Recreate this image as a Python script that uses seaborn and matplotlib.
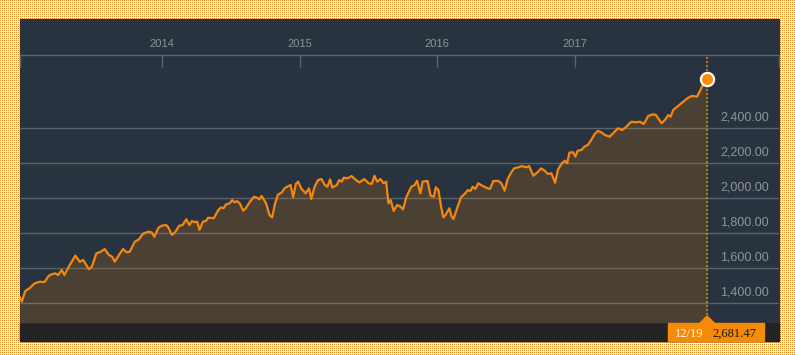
import matplotlib
matplotlib.use("Agg")
import matplotlib.pyplot as plt
import matplotlib.dates as mdates
import matplotlib.patches as mpatches
import matplotlib.transforms as mtrans
import seaborn as sns
import numpy as np
import pandas as pd

#### data
dates = [
    "2012-12-19", "2012-12-24", "2013-01-02", "2013-01-13", "2013-01-27", "2013-02-09",
    "2013-02-22", "2013-03-05", "2013-03-12", "2013-03-23", "2013-03-30", "2013-04-09",
    "2013-04-16", "2013-04-30", "2013-05-15", "2013-05-27", "2013-06-05", "2013-06-20",
    "2013-06-28", "2013-07-10", "2013-07-22", "2013-08-01", "2013-08-12", "2013-08-21",
    "2013-08-28", "2013-09-08", "2013-09-19", "2013-09-28", "2013-10-07", "2013-10-20",
    "2013-10-31", "2013-11-11", "2013-11-25", "2013-12-04", "2013-12-11", "2013-12-22",
    "2013-12-31", "2014-01-11", "2014-01-16", "2014-01-27", "2014-02-05", "2014-02-15",
    "2014-02-24", "2014-03-06", "2014-03-14", "2014-03-21", "2014-03-28", "2014-04-04",
    "2014-04-10", "2014-04-19", "2014-04-28", "2014-05-03", "2014-05-18", "2014-05-30",
    "2014-06-06", "2014-06-13", "2014-06-20", "2014-06-29", "2014-07-06", "2014-07-12",
    "2014-07-19", "2014-07-26", "2014-08-04", "2014-08-11", "2014-08-22", "2014-09-02",
    "2014-09-10", "2014-09-16", "2014-09-22", "2014-10-04", "2014-10-13", "2014-10-20",
    "2014-10-28", "2014-11-04", "2014-11-15", "2014-11-22", "2014-11-29", "2014-12-08",
    "2014-12-15", "2014-12-22", "2014-12-28", "2015-01-05", "2015-01-17", "2015-01-26",
    "2015-02-01", "2015-02-10", "2015-02-19", "2015-02-28", "2015-03-09", "2015-03-16",
    "2015-03-23", "2015-03-29", "2015-04-10", "2015-04-16", "2015-04-23", "2015-04-28",
    "2015-05-09", "2015-05-19", "2015-05-31", "2015-06-09", "2015-06-22", "2015-07-03",
    "2015-07-12", "2015-07-19", "2015-07-26", "2015-08-04", "2015-08-12", "2015-08-19",
    "2015-08-25", "2015-08-31", "2015-09-08", "2015-09-17", "2015-09-24", "2015-10-03",
    "2015-10-12", "2015-10-25", "2015-11-03", "2015-11-09", "2015-11-18", "2015-11-24",
    "2015-12-07", "2015-12-15", "2015-12-24", "2015-12-29", "2016-01-05", "2016-01-12",
    "2016-01-18", "2016-01-25", "2016-02-03", "2016-02-09", "2016-02-14", "2016-02-25",
    "2016-03-05", "2016-03-16", "2016-03-23", "2016-03-30", "2016-04-05", "2016-04-12",
    "2016-04-20", "2016-04-27", "2016-05-10", "2016-05-21", "2016-05-30", "2016-06-12",
    "2016-06-20", "2016-06-29", "2016-07-06", "2016-07-15", "2016-07-24", "2016-08-04",
    "2016-08-14", "2016-08-26", "2016-09-02", "2016-09-13", "2016-09-24", "2016-10-04",
    "2016-10-13", "2016-10-22", "2016-10-31", "2016-11-10", "2016-11-18", "2016-11-28",
    "2016-12-06", "2016-12-12", "2016-12-18", "2016-12-28", "2017-01-03", "2017-01-09",
    "2017-01-19", "2017-01-27", "2017-02-05", "2017-02-14", "2017-02-23", "2017-03-04",
    "2017-03-13", "2017-03-22", "2017-04-04", "2017-04-13", "2017-04-26", "2017-05-07",
    "2017-05-17", "2017-05-27", "2017-06-02", "2017-06-12", "2017-06-23", "2017-07-04",
    "2017-07-15", "2017-07-28", "2017-08-05", "2017-08-14", "2017-08-20", "2017-08-29",
    "2017-09-07", "2017-09-13", "2017-09-20", "2017-10-06", "2017-10-17", "2017-10-28",
    "2017-11-08", "2017-11-22", "2017-11-29", "2017-12-05", "2017-12-14", "2017-12-19",
]
closes = [
    1431, 1406, 1467, 1482, 1511, 1520,
    1518, 1553, 1562, 1568, 1558, 1587,
    1558, 1615, 1669, 1634, 1644, 1591,
    1606, 1682, 1692, 1707, 1673, 1663,
    1634, 1673, 1707, 1688, 1692, 1749,
    1762, 1795, 1806, 1802, 1777, 1829,
    1840, 1844, 1834, 1787, 1806, 1840,
    1844, 1877, 1844, 1867, 1860, 1863,
    1816, 1863, 1869, 1886, 1883, 1930,
    1945, 1940, 1963, 1968, 1987, 1974,
    1981, 1968, 1926, 1940, 1977, 2006,
    2000, 1991, 2010, 1968, 1901, 1888,
    1968, 2016, 2031, 2054, 2063, 2073,
    2003, 2079, 2092, 2054, 2025, 2054,
    1993, 2063, 2101, 2107, 2073, 2063,
    2105, 2058, 2073, 2101, 2092, 2115,
    2111, 2124, 2101, 2088, 2107, 2083,
    2079, 2126, 2092, 2107, 2083, 2092,
    1968, 1987, 1924, 1958, 1953, 1934,
    2006, 2063, 2073, 2097, 2025, 2092,
    2096, 2012, 2006, 2060, 2044, 1949,
    1888, 1905, 1940, 1892, 1878, 1949,
    2003, 2025, 2044, 2039, 2063, 2050,
    2083, 2073, 2058, 2050, 2096, 2096,
    2083, 2040, 2101, 2140, 2168, 2174,
    2181, 2174, 2181, 2126, 2145, 2168,
    2155, 2136, 2140, 2086, 2163, 2197,
    2212, 2197, 2258, 2260, 2235, 2269,
    2273, 2292, 2302, 2330, 2364, 2382,
    2374, 2359, 2349, 2368, 2397, 2387,
    2403, 2426, 2435, 2431, 2435, 2422,
    2467, 2477, 2473, 2445, 2426, 2445,
    2473, 2463, 2502, 2530, 2549, 2569,
    2582, 2578, 2606, 2635, 2654, 2681.47,
]
year_ticks = ["2014-01-01", "2015-01-01", "2016-01-01", "2017-01-01"]
year_labels = ["2014", "2015", "2016", "2017"]
grid_values = [1400, 1600, 1800, 2000, 2200, 2400]
x_range = ["2012-12-19", "2018-06-28"]
y_range = [1284, 2816]
last_day = "12/19"
last_value = "2,681.47"

df = pd.DataFrame({"date": pd.to_datetime(dates), "close": closes})

sns.set_style("dark")
plt.rcParams["font.family"] = ["Liberation Sans", "DejaVu Sans"]

navy = "#28333f"
W, H = 795, 355
fig = plt.figure(figsize=(W / 100, H / 100), dpi=100)
fig.patch.set_facecolor("white")

# dotted orange background
bg = np.ones((H, W, 3))
bg[::2, ::2] = [0.94, 0.55, 0.16]
fig.figimage(bg, 0, 0, zorder=-10)

# panel + dark bottom bar
fig.add_artist(mpatches.Rectangle((20 / W, (H - 341) / H), 759 / W, 322 / H,
                                  transform=fig.transFigure, color=navy, zorder=-5))
fig.add_artist(mpatches.Rectangle((20 / W, (H - 341) / H), 759 / W, 18 / H,
                                  transform=fig.transFigure, color="#232323", zorder=-4))

ax = fig.add_axes([20 / W, (H - 323) / H, 759 / W, 268 / H])
ax.set_facecolor(navy)

sns.lineplot(data=df, x="date", y="close", ax=ax, color="#f5870f", lw=1.6, zorder=3)
ax.fill_between(df["date"], df["close"], y_range[0], color="#ff8c00", alpha=0.16, lw=0, zorder=2)

ax.set_xlim(pd.to_datetime(x_range[0]), pd.to_datetime(x_range[1]))
ax.set_ylim(*y_range)

# grid
ax.set_yticks(grid_values)
ax.yaxis.grid(True, color="#59626c", lw=1.0)
ax.xaxis.grid(False)
ax.set_axisbelow(True)
ax.tick_params(axis="y", length=0, labelleft=False, labelright=False)
for v in grid_values:
    ax.annotate(f"{v:,.2f}", xy=(1, v), xycoords=("axes fraction", "data"),
                xytext=(-7.2, 5), textcoords="offset points",
                ha="right", va="baseline", color="#8e959c", fontsize=9)

# top axis with years
for s in ["left", "right", "bottom"]:
    ax.spines[s].set_visible(False)
ax.spines["top"].set_color("#5d6670")
ax.spines["top"].set_linewidth(1.0)
ax.xaxis.tick_top()
ax.set_xticks(pd.to_datetime(year_ticks))
ax.set_xticklabels(year_labels)
ax.set_xticks(mdates.date2num(pd.to_datetime(x_range)), minor=True)
ax.tick_params(axis="x", which="both", direction="in", length=8.6, width=1.0,
               color="#5d6670", labelcolor="#8c939b", labelsize=8, pad=4.5)
ax.tick_params(axis="x", which="minor", labeltop=False)
ax.set_xlabel("")
ax.set_ylabel("")

# last value marker and dotted line
last_date = df["date"].iloc[-1]
last_close = df["close"].iloc[-1]
ax.axvline(last_date, color="#c8891e", lw=1.2, ls=(0, (1.2, 1.2)), zorder=4)
ax.plot([last_date], [last_close], "o", ms=9.5, mfc="#ff8c00", mec="white",
        mew=1.6, zorder=6, clip_on=False)

# label box in the bottom bar
px, py = ax.transData.transform((mdates.date2num(last_date), y_range[0]))
ident = mtrans.IdentityTransform()
fig.add_artist(mpatches.Rectangle((px - 39, py - 18), 96, 18, transform=ident,
                                  color="#f58a07", zorder=5))
fig.add_artist(mpatches.Polygon([(px - 7.5, py - 0.5), (px + 7.5, py - 0.5), (px, py + 7)],
                                transform=ident, color="#f58a07", zorder=5))
fig.text(px - 17.5, py - 14, last_day, transform=ident, ha="center", va="baseline",
         color="white", fontsize=9, family=["Liberation Serif", "DejaVu Serif"], zorder=6)
fig.text(px + 27, py - 14, last_value, transform=ident, ha="center", va="baseline",
         color="#1a1a1a", fontsize=9, family=["Liberation Serif", "DejaVu Serif"], zorder=6)

plt.savefig("out.png", dpi=100)
